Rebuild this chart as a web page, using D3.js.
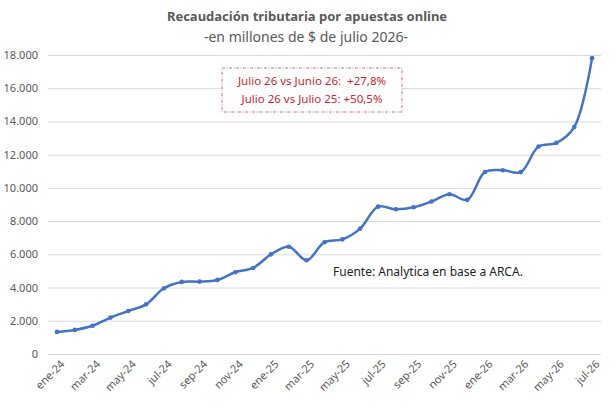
<html>
<head>
<meta charset="utf-8">
<script src="https://cdn.jsdelivr.net/npm/d3@7"></script>
<style>
  body { margin: 0; background: #fff; }
  text { font-family: "Noto Sans", sans-serif; }
</style>
</head>
<body>
<script>
const months = ["ene-24","feb-24","mar-24","abr-24","may-24","jun-24","jul-24","ago-24","sep-24","oct-24","nov-24","dic-24",
                "ene-25","feb-25","mar-25","abr-25","may-25","jun-25","jul-25","ago-25","sep-25","oct-25","nov-25","dic-25",
                "ene-26","feb-26","mar-26","abr-26","may-26","jun-26","jul-26"]
const recaudacion = [1330, 1450, 1700, 2190, 2590, 2990, 3960, 4340, 4360, 4460, 4920, 5180,
                     6000, 6460, 5640, 6730, 6900, 7550, 8870, 8710, 8830, 9180, 9620, 9280,
                     10960, 11060, 10950, 12490, 12710, 13660, 17810]
const yTicks = [0, 2000, 4000, 6000, 8000, 10000, 12000, 14000, 16000, 18000]
const notes = ["Julio 26 vs Junio 26:  +27,8%", "Julio 26 vs Julio 25: +50,5%"]

let w = 615
let h = 410

let svg = d3.select("body").append("svg")
            .attr("width", w)
            .attr("height", h)

let x = d3.scalePoint().domain(months).range([48, 601]).padding(0.5)
let y = d3.scaleLinear().domain([0, 18000]).range([354, 55])

// title
svg.append("text").attr("x", 307).attr("y", 21)
   .attr("text-anchor", "middle").attr("font-size", 13).attr("font-weight", "bold")
   .attr("fill", "#595959").text("Recaudación tributaria por apuestas online")
svg.append("text").attr("x", 306).attr("y", 42)
   .attr("text-anchor", "middle").attr("font-size", 14)
   .attr("fill", "#595959").text("-en millones de $ de julio 2026-")

// grid + y labels
let fmt = d3.format(",.0f")
let yAxis = d3.axisLeft(y).tickValues(yTicks)
              .tickSize(-553).tickPadding(10)
              .tickFormat(d => fmt(d).replace(/,/g, "."))
let gy = svg.append("g").attr("transform", "translate(48,0)").call(yAxis)
gy.select(".domain").remove()
gy.selectAll("line").attr("stroke", "#d9d9d9")
gy.selectAll("text").attr("fill", "#595959").attr("font-size", 11)
  .attr("font-family", "Noto Sans, sans-serif")

// x labels
let xAxis = d3.axisBottom(x).tickSize(0)
              .tickFormat((d, i) => i % 2 === 0 ? d : "")
let gx = svg.append("g").attr("transform", "translate(0,354)").call(xAxis)
gx.select(".domain").remove()
gx.selectAll("text")
  .attr("fill", "#595959").attr("font-size", 11)
  .attr("font-family", "Noto Sans, sans-serif")
  .attr("text-anchor", "end")
  .attr("transform", "translate(4,7) rotate(-45)")
  .attr("dy", "0.5em").attr("y", 0)

// line
let line = d3.line()
             .x((d, i) => x(months[i]))
             .y(d => y(d))
             .curve(d3.curveCatmullRom.alpha(0.5))
svg.append("path").datum(recaudacion)
   .attr("d", line).attr("fill", "none")
   .attr("stroke", "#4472c4").attr("stroke-width", 2.5)
svg.selectAll(".pt").data(recaudacion).enter().append("circle")
   .attr("class", "pt")
   .attr("cx", (d, i) => x(months[i])).attr("cy", d => y(d))
   .attr("r", 2.3).attr("fill", "#4472c4")

// annotation box
svg.append("rect").attr("x", 222).attr("y", 68).attr("width", 180).attr("height", 44)
   .attr("fill", "#fff").attr("stroke", "#b5555a").attr("stroke-width", 0.8)
   .attr("stroke-dasharray", "3,1.5,1,1.5")
svg.selectAll(".note").data(notes).enter().append("text")
   .attr("class", "note")
   .attr("x", 312).attr("y", (d, i) => 85 + i * 18)
   .attr("text-anchor", "middle").attr("font-size", 11.5)
   .style("white-space", "pre")
   .attr("fill", "#c8272e").text(d => d)

svg.append("text").attr("x", 333).attr("y", 276)
   .attr("font-size", 12).attr("fill", "#222")
   .text("Fuente: Analytica en base a ARCA.")
</script>
</body>
</html>
